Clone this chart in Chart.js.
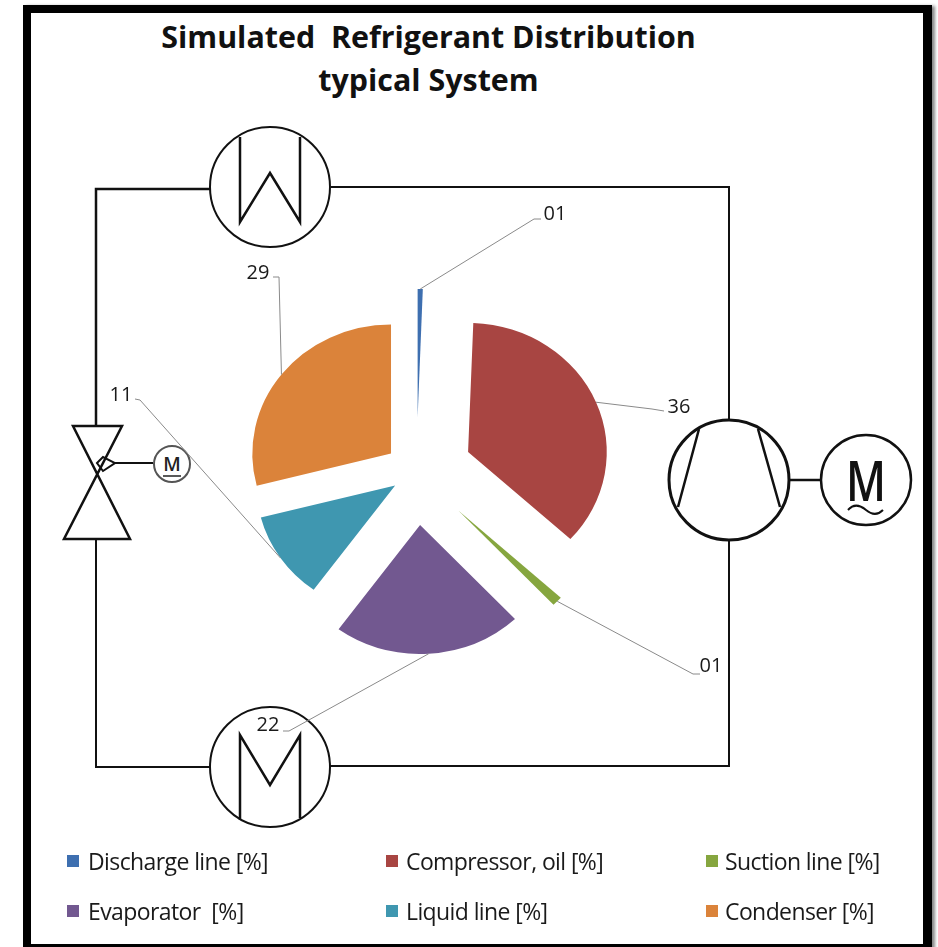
<!DOCTYPE html>
<html>
<head>
<meta charset="utf-8">
<title>Simulated Refrigerant Distribution</title>
<script src="https://cdn.jsdelivr.net/npm/chart.js@4"></script>
<style>
  html, body { margin: 0; padding: 0; background: #fff; }
  #page { position: relative; width: 938px; height: 947px; overflow: hidden; font-family: "Open Sans", sans-serif; color: #111; }
  #frame { position: absolute; left: 23px; top: 5px; width: 892px; height: 931px; border: 8px solid #000; border-right-width: 9px; box-shadow: 3px 1px 3px #888; }
  #system, #pie { position: absolute; left: 0; top: 0; }
  .title { position: absolute; left: 28px; width: 801px; text-align: center; font-weight: 700; font-size: 30.4px; line-height: 38px; color: #111; white-space: pre; }
  .key { position: absolute; font-size: 23px; line-height: 28px; white-space: pre; letter-spacing: -0.6px; color: #1a1a1a; }
  .swatch { position: absolute; width: 12px; height: 12px; }
</style>
</head>
<body>
<div id="page">
  <div id="frame"></div>
  <div class="title" style="top:18px">Simulated  Refrigerant Distribution</div>
  <div class="title" style="top:61px">typical System</div>

  <!-- refrigerant circuit behind the pie -->
  <svg id="system" width="938" height="947" fill="none" stroke="#111" stroke-width="2">
    <path d="M211 189H96V426" stroke-width="2.5"/>
    <path d="M331 187H729V420" />
    <path d="M96 540V767H211" />
    <path d="M330 766H729V540" />
    <circle cx="270" cy="187" r="60" />
    <path d="M240 137V222L270 173L300 222V137" stroke-width="2.5"/>
    <circle cx="270" cy="767" r="60" />
    <path d="M240 820V735L270 785L300 735V818" stroke-width="2.5"/>
    <path d="M73 426H122L64 539H130L73 426Z" stroke-width="2.5"/>
    <path d="M97 463L103 457L115 463L103 471Z" />
    <path d="M115 463H153" />
    <circle cx="172" cy="464" r="18" stroke="#555" />
    <text x="172" y="471" text-anchor="middle" fill="#222" stroke="none" font-family="Open Sans" font-weight="600" font-size="19">M</text>
    <path d="M163 476H181" stroke="#222" stroke-width="1.5"/>
    <circle cx="729" cy="480" r="60" stroke-width="3"/>
    <path d="M699 429L678 507M758 429L780 507" stroke-width="2.5"/>
    <path d="M789 480H821" stroke-width="2.5"/>
    <circle cx="866" cy="480" r="45" stroke-width="2.5"/>
    <text x="846" y="501" fill="#111" stroke="none" font-family="Open Sans" font-weight="600" font-size="56" textLength="40" lengthAdjust="spacingAndGlyphs">M</text>
    <path d="M848 510C854 503 860 505 866 510C872 515 878 515 883 510" stroke-width="2"/>
  </svg>

  <canvas id="pie" width="938" height="947"></canvas>
  <div id="legend"></div>
</div>

<script>
// ── Data ───────────────────────────────────────────
const categories = ['Discharge line [%]', 'Compressor, oil [%]', 'Suction line [%]', 'Evaporator  [%]', 'Liquid line [%]', 'Condenser [%]'];
const shares     = [0.6, 36.2, 1.2, 22, 11, 29];
const colors     = ['#3E6FB0', '#A84542', '#86A63F', '#725890', '#3F97B0', '#DB833A'];

// how far each slice is pulled out of the pie
const explode = [54, 52, 55, 53, 24, 30];

// leader line path from the slice edge out to its number
const leaders = [
  { label: [555, 214], path: [[534, 219], [541, 219]] },
  { label: [679, 407], path: [[652, 409], [664, 411]] },
  { label: [711, 666], path: [[693, 674], [700, 674]] },
  { label: [268, 725], path: [[289, 731], [283, 731]] },
  { label: [121, 395], path: [[140, 400], [135, 399]] },
  { label: [258, 273], path: [[279, 277], [273, 277]] }
];

const legendSpots = [[67, 88, 861], [386, 406, 861], [706, 725, 861], [67, 88, 911], [386, 406, 911], [706, 725, 911]];

// the original image is a little wider than tall, pie included
const STRETCH = 1.075;
const RADIUS = 129;

function midAngle(arc) {
  return (arc.startAngle + arc.endAngle) / 2;
}

const explodePlugin = {
  id: 'explode',
  afterDatasetsUpdate(chart) {
    chart.getDatasetMeta(0).data.forEach((arc, i) => {
      const a = midAngle(arc);
      arc.x += Math.cos(a) * explode[i];
      arc.y += Math.sin(a) * explode[i];
    });
  },
  beforeDatasetsDraw(chart) {
    const cx = (chart.chartArea.left + chart.chartArea.right) / 2;
    const ctx = chart.ctx;
    ctx.save();
    ctx.translate(cx, 0);
    ctx.scale(STRETCH, 1);
    ctx.translate(-cx, 0);
  },
  afterDatasetsDraw(chart) {
    chart.ctx.restore();
  }
};

const leaderPlugin = {
  id: 'leaders',
  afterDraw(chart) {
    const ctx = chart.ctx;
    const cx = (chart.chartArea.left + chart.chartArea.right) / 2;
    ctx.save();
    chart.getDatasetMeta(0).data.forEach((arc, i) => {
      const a = midAngle(arc);
      const x = cx + (arc.x + Math.cos(a) * RADIUS - cx) * STRETCH;
      const y = arc.y + Math.sin(a) * RADIUS;
      ctx.beginPath();
      ctx.moveTo(x, y);
      leaders[i].path.forEach(p => ctx.lineTo(p[0], p[1]));
      ctx.strokeStyle = '#8a8a8a';
      ctx.lineWidth = 1;
      ctx.stroke();

      ctx.fillStyle = '#1a1a1a';
      ctx.font = '20px "Open Sans"';
      ctx.textAlign = 'center';
      ctx.textBaseline = 'middle';
      ctx.fillText(String(Math.round(shares[i])).padStart(2, '0'), leaders[i].label[0], leaders[i].label[1]);
    });
    ctx.restore();
  }
};

new Chart(document.getElementById('pie'), {
  type: 'pie',
  data: {
    labels: categories,
    datasets: [{ data: shares, backgroundColor: colors, borderWidth: 0 }]
  },
  options: {
    responsive: false,
    animation: false,
    radius: RADIUS,
    rotation: 0,
    layout: { padding: { left: 0, right: 105, top: 0, bottom: 3 } },
    plugins: { legend: { display: false }, tooltip: { enabled: false }, title: { display: false } }
  },
  plugins: [explodePlugin, leaderPlugin]
});

// ── Legend ─────────────────────────────────────────
document.getElementById('legend').innerHTML = categories.map((c, i) => {
  const [bx, tx, y] = legendSpots[i];
  return `
    <div class="swatch" style="left:${bx}px;top:${y - 6}px;background:${colors[i]}"></div>
    <div class="key" style="left:${tx}px;top:${y - 14}px">${c}</div>
  `;
}).join('');
</script>
</body>
</html>
